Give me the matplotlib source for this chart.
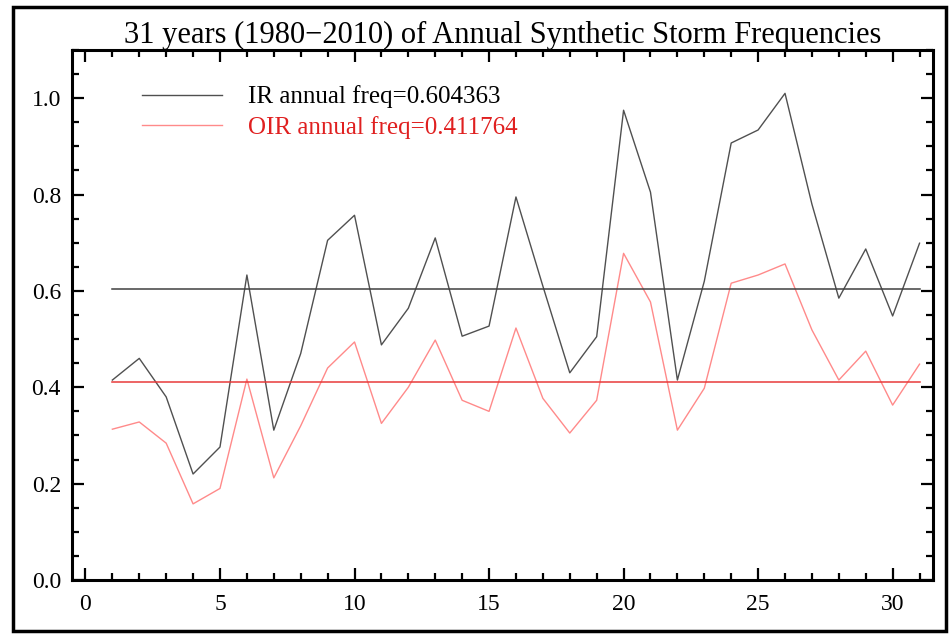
import matplotlib
matplotlib.use("Agg")
import matplotlib.pyplot as plt
from matplotlib.patches import Rectangle
from matplotlib.ticker import MultipleLocator

years = list(range(1, 32))
ir_freq = [0.415, 0.46, 0.38, 0.22, 0.276, 0.633, 0.311, 0.47, 0.705, 0.757,
           0.488, 0.564, 0.71, 0.506, 0.527, 0.795, 0.61, 0.43, 0.505, 0.975,
           0.805, 0.415, 0.62, 0.907, 0.934, 1.01, 0.78, 0.585, 0.687, 0.548, 0.699]
oir_freq = [0.313, 0.328, 0.284, 0.158, 0.19, 0.417, 0.212, 0.32, 0.44, 0.494,
            0.325, 0.40, 0.498, 0.373, 0.35, 0.523, 0.377, 0.305, 0.373, 0.678,
            0.577, 0.311, 0.398, 0.616, 0.633, 0.656, 0.519, 0.415, 0.475, 0.363, 0.448]
ir_mean = 0.604363
oir_mean = 0.411764
title = "31 years (1980\u22122010) of Annual Synthetic Storm Frequencies"
ir_label = "IR annual freq=0.604363"
oir_label = "OIR annual freq=0.411764"

plt.rcParams['font.family'] = ['Liberation Serif', 'DejaVu Serif']

fig = plt.figure(figsize=(9.51, 6.37), dpi=100)
ax = fig.add_axes([72/951, 57/637, 861/951, 530/637])

ir_col = '#505050'
oir_col = '#ff8a8a'
l1, = ax.plot(years, ir_freq, color=ir_col, lw=1.0)
l2, = ax.plot(years, oir_freq, color=oir_col, lw=1.0)
ax.plot([years[0], years[-1]], [ir_mean, ir_mean], color='#404040', lw=1.1)
ax.plot([years[0], years[-1]], [oir_mean, oir_mean], color='#e83a3a', lw=1.1)

ax.set_xlim(-0.5, 31.5)
ax.set_ylim(0, 1.1)
ax.xaxis.set_major_locator(MultipleLocator(5))
ax.xaxis.set_minor_locator(MultipleLocator(1))
ax.yaxis.set_major_locator(MultipleLocator(0.2))
ax.yaxis.set_minor_locator(MultipleLocator(0.05))
ax.yaxis.set_major_formatter(plt.FuncFormatter(lambda v, p: f"{v:.1f}"))
ax.tick_params(which='both', direction='in', top=True, right=True, width=1.6, color='black')
ax.tick_params(which='major', length=8.5, labelsize=17)
ax.tick_params(which='minor', length=5)
ax.tick_params(axis='x', which='major', pad=10)
ax.tick_params(axis='y', which='major', pad=8)
for s in ax.spines.values():
    s.set_linewidth(2.2)

ax.set_title(title, fontsize=22, pad=5)

leg = ax.legend([l1, l2], [ir_label, oir_label], loc='upper left',
                bbox_to_anchor=(0.081, 0.933), frameon=False, fontsize=18,
                handlelength=3.2, handletextpad=1.05, labelspacing=0.3,
                borderpad=0, borderaxespad=0)
leg.get_texts()[1].set_color('#e02020')

fig.patches.append(Rectangle((13/951, 6/637), 933/951, 624/637, transform=fig.transFigure,
                             fill=False, edgecolor='black', lw=2.5))

fig.savefig('out.png', dpi=100)
